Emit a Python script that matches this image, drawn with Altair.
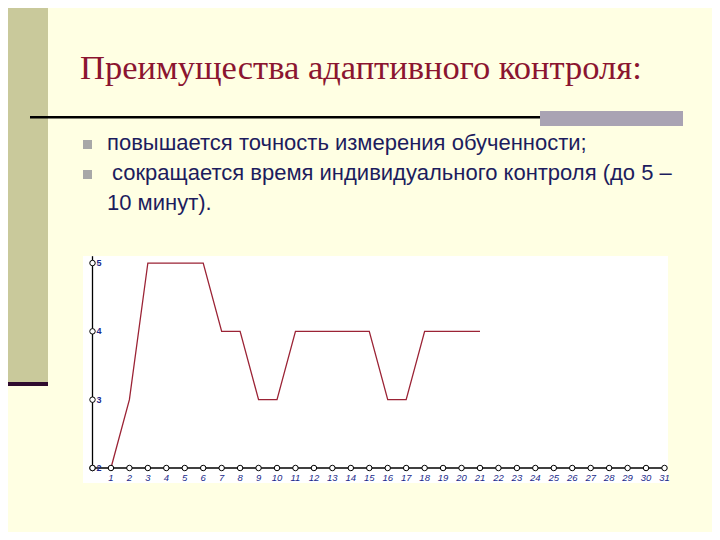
import altair as alt
import pandas as pd

# ---- data ----
steps = list(range(1, 22))
scores = [2, 3, 5, 5, 5, 5, 4, 4, 3, 3, 4, 4, 4, 4, 4, 3, 3, 4, 4, 4, 4]
x_ticks = list(range(0, 32))
x_labels = [str(i) for i in range(1, 32)]
y_ticks = [2, 3, 4, 5]

title_text = "Преимущества адаптивного контроля:"
bullet_lines = [
    "повышается точность измерения обученности;",
    " сокращается время индивидуального контроля (до 5 –",
    "10 минут).",
]

# ---- layout helpers (page px -> plot-relative px) ----
OX, OY = 92.5, 256.2          # page position of plot origin (x=0, top)
PW, PH = 572, 211.8
TOTAL_W, TOTAL_H = 704, 524   # svg size; page margin 8px adds up to 720x540
def px(v): return v - OX
def py(v): return v - OY

CREAM = "#FFFFE3"
ONE = alt.Data(values=[{"k": 1}])

def rect(x1, y1, x2, y2, color):
    return alt.Chart(ONE).mark_rect(color=color).encode(
        x=alt.value(px(x1)), x2=alt.value(px(x2)),
        y=alt.value(py(y1)), y2=alt.value(py(y2)))

def text(t, x, y, size, color, font, **kw):
    return alt.Chart(alt.Data(values=[{"t": t}])).mark_text(
        align="left", baseline="alphabetic", fontSize=size, color=color, font=font, **kw
    ).encode(text="t:N", x=alt.value(px(x)), y=alt.value(py(y)))

TXT = "#1C1C5E"
deco = [
    rect(0, 0, 48, 382, "#C9C99B"),
    rect(0, 382, 48, 386, "#2E0B2E"),
    rect(30, 116, 683, 118.5, "#000000"),
    rect(540, 111, 683, 126, "#A9A3B3"),
    rect(83, 140, 92, 149, "#A8A8A8"),
    rect(83, 170, 92, 179, "#A8A8A8"),
    rect(83, 256, 668, 483, "#FFFFFF"),
    text(title_text, 80, 79, 34.5, "#8B1530", "Liberation Serif"),
    text(bullet_lines[0], 107, 150, 22, TXT, "Liberation Sans"),
    text(bullet_lines[1], 112, 180, 22, TXT, "Liberation Sans"),
    text(bullet_lines[2], 107, 210, 22, TXT, "Liberation Sans"),
]

xs = alt.Scale(domain=[0, 31], nice=False, zero=False)
ysc = alt.Scale(domain=[2, 5.1], nice=False, zero=False)

axis_x = alt.Chart(alt.Data(values=[{"a": 0, "b": 31, "y": 2}])).mark_rule(color="black", strokeWidth=1.3).encode(
    x=alt.X("a:Q", scale=xs, axis=None), x2="b:Q", y=alt.Y("y:Q", scale=ysc, axis=None))
axis_y = alt.Chart(alt.Data(values=[{"x": 0, "a": 2, "b": 5.1}])).mark_rule(color="black", strokeWidth=1.3).encode(
    x=alt.X("x:Q", scale=xs, axis=None), y=alt.Y("a:Q", scale=ysc, axis=None), y2="b:Q")

line_df = pd.DataFrame({"step": steps, "score": scores})
line = alt.Chart(line_df).mark_line(color="#9B2335", strokeWidth=1.3).encode(
    x=alt.X("step:Q", scale=xs, axis=None), y=alt.Y("score:Q", scale=ysc, axis=None))

xt_df = pd.DataFrame({"x": x_ticks, "y": [2] * len(x_ticks)})
xt = alt.Chart(xt_df).mark_point(shape="circle", filled=True, fill="white", stroke="black",
                                 strokeWidth=1, size=30, opacity=1).encode(
    x=alt.X("x:Q", scale=xs, axis=None), y=alt.Y("y:Q", scale=ysc, axis=None))

yt_df = pd.DataFrame({"x": [0] * len(y_ticks), "y": y_ticks})
yt = alt.Chart(yt_df).mark_point(shape="circle", filled=True, fill="white", stroke="black",
                                 strokeWidth=1, size=30, opacity=1).encode(
    x=alt.X("x:Q", scale=xs, axis=None), y=alt.Y("y:Q", scale=ysc, axis=None))

xl_df = pd.DataFrame({"x": list(range(1, 32)), "y": [2] * 31, "lab": x_labels})
xl = alt.Chart(xl_df).mark_text(fontSize=9.5, fontStyle="italic", color="#1A2A8A", dy=10,
                                font="Liberation Sans").encode(
    x=alt.X("x:Q", scale=xs, axis=None), y=alt.Y("y:Q", scale=ysc, axis=None), text="lab:N")

yl_df = pd.DataFrame({"x": [0] * 4, "y": y_ticks, "lab": [str(v) for v in y_ticks]})
yl = alt.Chart(yl_df).mark_text(fontSize=9, fontWeight="bold", color="#1A2A8A", dx=4, align="left",
                                font="Liberation Sans").encode(
    x=alt.X("x:Q", scale=xs, axis=None), y=alt.Y("y:Q", scale=ysc, axis=None), text="lab:N")

chart = alt.layer(*deco, axis_x, axis_y, line, xt, yt, xl, yl).properties(
    width=PW, height=PH,
    autosize="none",
    padding={"left": OX - 8, "top": OY - 8,
             "right": TOTAL_W - (OX - 8) - PW, "bottom": TOTAL_H - (OY - 8) - PH},
    background=CREAM,
).configure_view(stroke=None)

chart.save("out.html", embed_options={"renderer": "svg", "actions": False})
